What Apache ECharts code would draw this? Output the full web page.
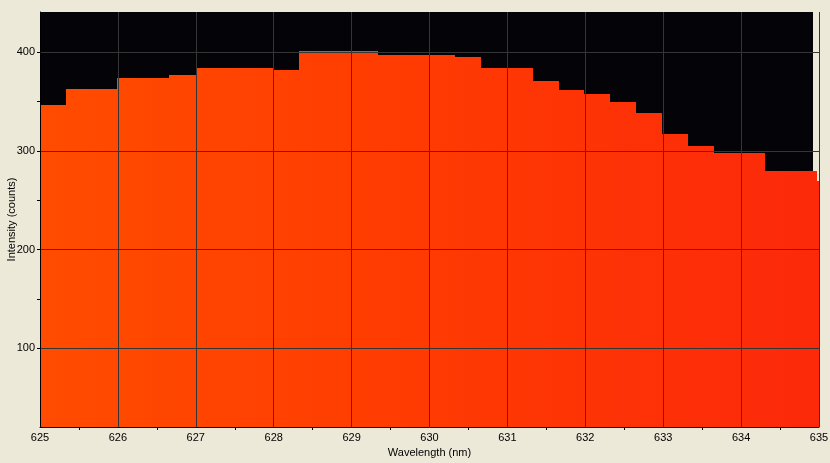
<!DOCTYPE html>
<html>
<head>
<meta charset="utf-8">
<style>
html,body{margin:0;padding:0;background:#ECE9D8;}
#chart{width:830px;height:463px;}
</style>
<script src="https://cdn.jsdelivr.net/npm/echarts@6/dist/echarts.min.js"></script>
</head>
<body>
<div id="chart"></div>
<script>
// Step edges (nm) where the intensity changes; intensity i holds between edge i and edge i+1
const binEdges = [625.00, 625.34, 625.99, 626.66, 627.00, 627.99, 628.33, 629.32, 630.31, 630.65, 631.31, 631.65, 631.97, 632.30, 632.64, 632.97, 633.30, 633.64, 634.29, 634.96, 635.00];
const intensities = [347, 363, 374, 377, 384, 382, 401, 397, 395, 384, 371, 362, 358, 350, 339, 317, 305, 298, 280, 270];
const yMajorTicks = [100, 200, 300, 400];
const yMinorTicks = [150, 250, 350];
const xLabel = 'Wavelength (nm)';
const yLabel = 'Intensity (counts)';

const Y_MIN = 20, Y_MAX = 441;
const font = {fontFamily: 'Liberation Sans', fontSize: 11, color: '#000'};
const chart = echarts.init(document.getElementById('chart'));
const data = intensities.map((v, i) => [binEdges[i], binEdges[i + 1], v]);
const fillGrad = new echarts.graphic.LinearGradient(40, 0, 819, 0, [
  {offset: 0, color: '#ff4c00'},
  {offset: 0.5, color: '#ff3a02'},
  {offset: 1, color: '#fc290a'}
], true);

chart.setOption({
  backgroundColor: '#ECE9D8',
  animation: false,
  graphic: [{
    type: 'rect', z: -10,
    shape: {x: 40, y: 12, width: 773, height: 415},
    style: {fill: '#040307'}
  }],
  grid: {left: 40, right: 11, top: 12, bottom: 36, outerBoundsMode: 'none'},
  xAxis: {
    type: 'value', min: 625, max: 635, interval: 1, z: 3,
    name: xLabel, nameLocation: 'middle', nameGap: 20, nameMoveOverlap: false,
    nameTextStyle: font,
    axisLine: {show: true, lineStyle: {color: '#000', width: 1}},
    axisTick: {show: false},
    minorTick: {show: true, splitNumber: 2, length: 3, lineStyle: {color: '#000'}},
    axisLabel: Object.assign({margin: 5, formatter: v => String(v)}, font),
    splitLine: {show: true, lineStyle: {color: '#353535', width: 1}}
  },
  yAxis: [{
    type: 'value', min: Y_MIN, max: Y_MAX, z: 3,
    name: yLabel, nameLocation: 'middle', nameGap: 23, nameMoveOverlap: false,
    nameTextStyle: font,
    axisLine: {show: true, lineStyle: {color: '#000', width: 1}},
    axisTick: {show: true, length: 3, customValues: yMajorTicks, lineStyle: {color: '#000'}},
    axisLabel: Object.assign({margin: 5, customValues: yMajorTicks}, font),
    splitLine: {show: true, lineStyle: {color: '#353535', width: 1}}
  }, {
    type: 'value', min: Y_MIN, max: Y_MAX, position: 'left', z: 3,
    axisLine: {show: false},
    axisTick: {show: true, length: 3, customValues: yMinorTicks, lineStyle: {color: '#000'}},
    axisLabel: {show: false},
    splitLine: {show: false}
  }],
  series: [{
    type: 'custom', z: 2,
    data: data,
    encode: {x: [0, 1], y: 2},
    renderItem: function (params, api) {
      const p0 = api.coord([api.value(0), api.value(2)]);
      const p1 = api.coord([api.value(1), Y_MIN]);
      const x0 = Math.round(p0[0]);
      const x1 = params.dataIndex === params.dataInsideLength - 1 ? p1[0] : Math.round(p1[0]) + 1;
      return {
        type: 'rect',
        shape: {x: x0, y: Math.round(p0[1]), width: x1 - x0, height: p1[1] - Math.round(p0[1])},
        style: {fill: fillGrad, stroke: null}
      };
    }
  }]
});
</script>
</body>
</html>
